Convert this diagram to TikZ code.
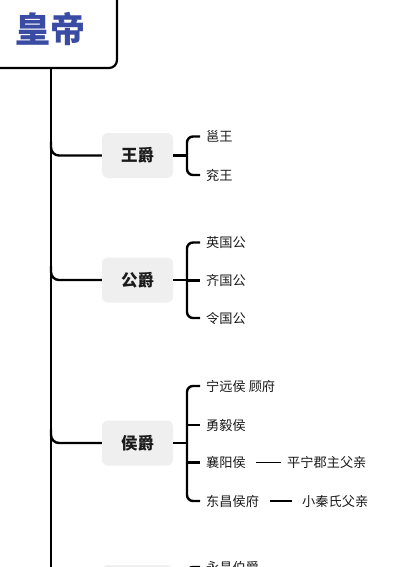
\documentclass[tikz,border=0pt]{standalone}
\usepackage{fontspec}
\setmainfont{Noto Sans CJK SC}
\definecolor{empblue}{HTML}{3A4BA3}
\definecolor{catgray}{HTML}{EFEFEF}
\definecolor{txtdark}{HTML}{1A1A1A}
\begin{document}
\begin{tikzpicture}[x=1pt,y=-1pt,
  conn/.style={line width=2.4pt, black},
  thinconn/.style={line width=1.4pt, black},
  empbox/.style={draw=black, line width=2.2pt, rounded corners=8pt, minimum width=132pt, minimum height=78pt,
    font=\bfseries\fontsize{35}{35}\selectfont, text=empblue},
  catbox/.style={fill=catgray, rounded corners=6pt, minimum width=71pt, minimum height=45pt,
    font=\bfseries\fontsize{16.5}{16.5}\selectfont, text=txtdark},
  child/.style={anchor=west, inner xsep=6pt, inner ysep=0pt, font=\fontsize{13.2}{13.2}\selectfont, text=txtdark}]
\useasboundingbox (0,0) rectangle (400,567);
\clip (0,0) rectangle (400,567);

% emperor
\node[empbox] (emp) at (51,29) {皇帝};
\coordinate (tbot) at (51,600);
\draw[conn] (emp.south) -- (tbot);
\coordinate (bx) at (187,0);

% categories
\node[catbox] (wang) at (137.5,155.5) {王爵};
\node[catbox] (gong) at (137.5,280) {公爵};
\node[catbox] (hou) at (137.5,443) {侯爵};
\node[catbox] (bo) at (137.5,587.5) {伯爵};

\foreach \c in {wang,gong,hou,bo}{
  \draw[conn, rounded corners=8pt] ([yshift=14pt]\c.west -| emp.south) |- (\c.west);
  \draw[conn] (\c.east) -- (\c.east -| bx);
}

% 王爵 children
\node[child] (yong) at (200,136.5) {邕王};
\node[child] (yan) at (200,175) {兖王};
\draw[conn, rounded corners=6pt] (yong.west) -- (yong.west -| bx) -- (yan.west -| bx) -- (yan.west);

% 公爵 children
\node[child] (ying) at (200,242.5) {英国公};
\node[child] (qi) at (200,280.5) {齐国公};
\node[child] (ling) at (200,318) {令国公};
\draw[conn, rounded corners=6pt] (ying.west) -- (ying.west -| bx) -- (ling.west -| bx) -- (ling.west);
\draw[conn] (qi.west -| bx) -- (qi.west);

% 侯爵 children
\node[child] (ning) at (200,386) {宁远侯 顾府};
\node[child] (yi) at (200,425) {勇毅侯};
\node[child] (xiang) at (200,462.5) {襄阳侯};
\node[child] (dong) at (200,501) {东昌侯府};
\draw[conn, rounded corners=6pt] (ning.west) -- (ning.west -| bx) -- (dong.west -| bx) -- (dong.west);
\draw[conn] (yi.west -| bx) -- (yi.west);
\draw[conn] (xiang.west -| bx) -- (xiang.west);

\node[child] (ping) at (281,462.5) {平宁郡主父亲};
\node[child] (xiao) at (296,501) {小秦氏父亲};
\draw[thinconn, shorten <=4pt] (xiang.east) -- (ping.west);
\draw[thinconn, shorten <=5pt, shorten >=4pt] (dong.east) -- (xiao.west);

% 伯爵 children (cut off at the lower edge, as in the reference)
\node[child] (yongchang) at (200,567) {永昌伯爵};
\draw[conn, rounded corners=6pt] (yongchang.west) -- (yongchang.west -| bx) -- ([yshift=-40pt]yongchang.west -| bx);
\end{tikzpicture}
\end{document}
